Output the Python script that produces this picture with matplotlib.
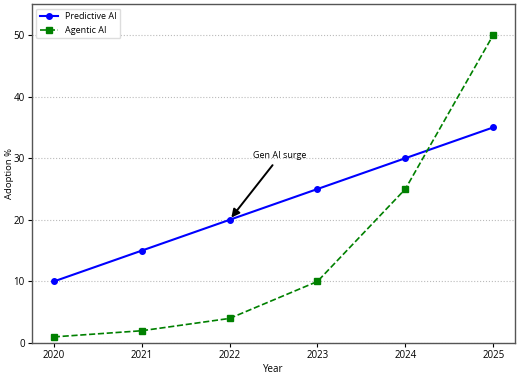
import matplotlib
matplotlib.use("Agg")
import matplotlib.pyplot as plt

years = [2020, 2021, 2022, 2023, 2024, 2025]
predictive = [10, 15, 20, 25, 30, 35]
agentic = [1, 2, 4, 10, 25, 50]

plt.rcParams['font.family'] = ['Open Sans', 'DejaVu Sans']

fig = plt.figure(figsize=(5.22, 3.77), dpi=100)
ax = fig.add_axes([0.061, 0.090, 0.926, 0.899])

ax.plot(years, predictive, color='blue', marker='o', linestyle='-', markersize=4, linewidth=1.5, label='Predictive AI')
ax.plot(years, agentic, color='green', marker='s', linestyle='--', markersize=4, linewidth=1.2, label='Agentic AI')

ax.annotate('Gen AI surge', xy=(2022, 20), xytext=(2022.27, 30),
            fontsize=6.5, arrowprops=dict(arrowstyle='-|>', color='black', lw=1.4, mutation_scale=12))

ax.set_ylim(0, 55)
ax.set_xlabel('Year', fontsize=7, labelpad=2)
ax.set_ylabel('Adoption %', fontsize=6.8)
ax.yaxis.set_label_coords(-0.036, 0.5)
ax.tick_params(labelsize=7, length=3, pad=2)
ax.grid(axis='y', linestyle=':', color='#bbbbbb', linewidth=0.8)
for s in ax.spines.values():
    s.set_color('#555555')
    s.set_linewidth(1.0)
ax.legend(loc='upper left', fontsize=6.5, handlelength=2, framealpha=1, edgecolor='#dddddd')

fig.savefig('out.png', dpi=100)
